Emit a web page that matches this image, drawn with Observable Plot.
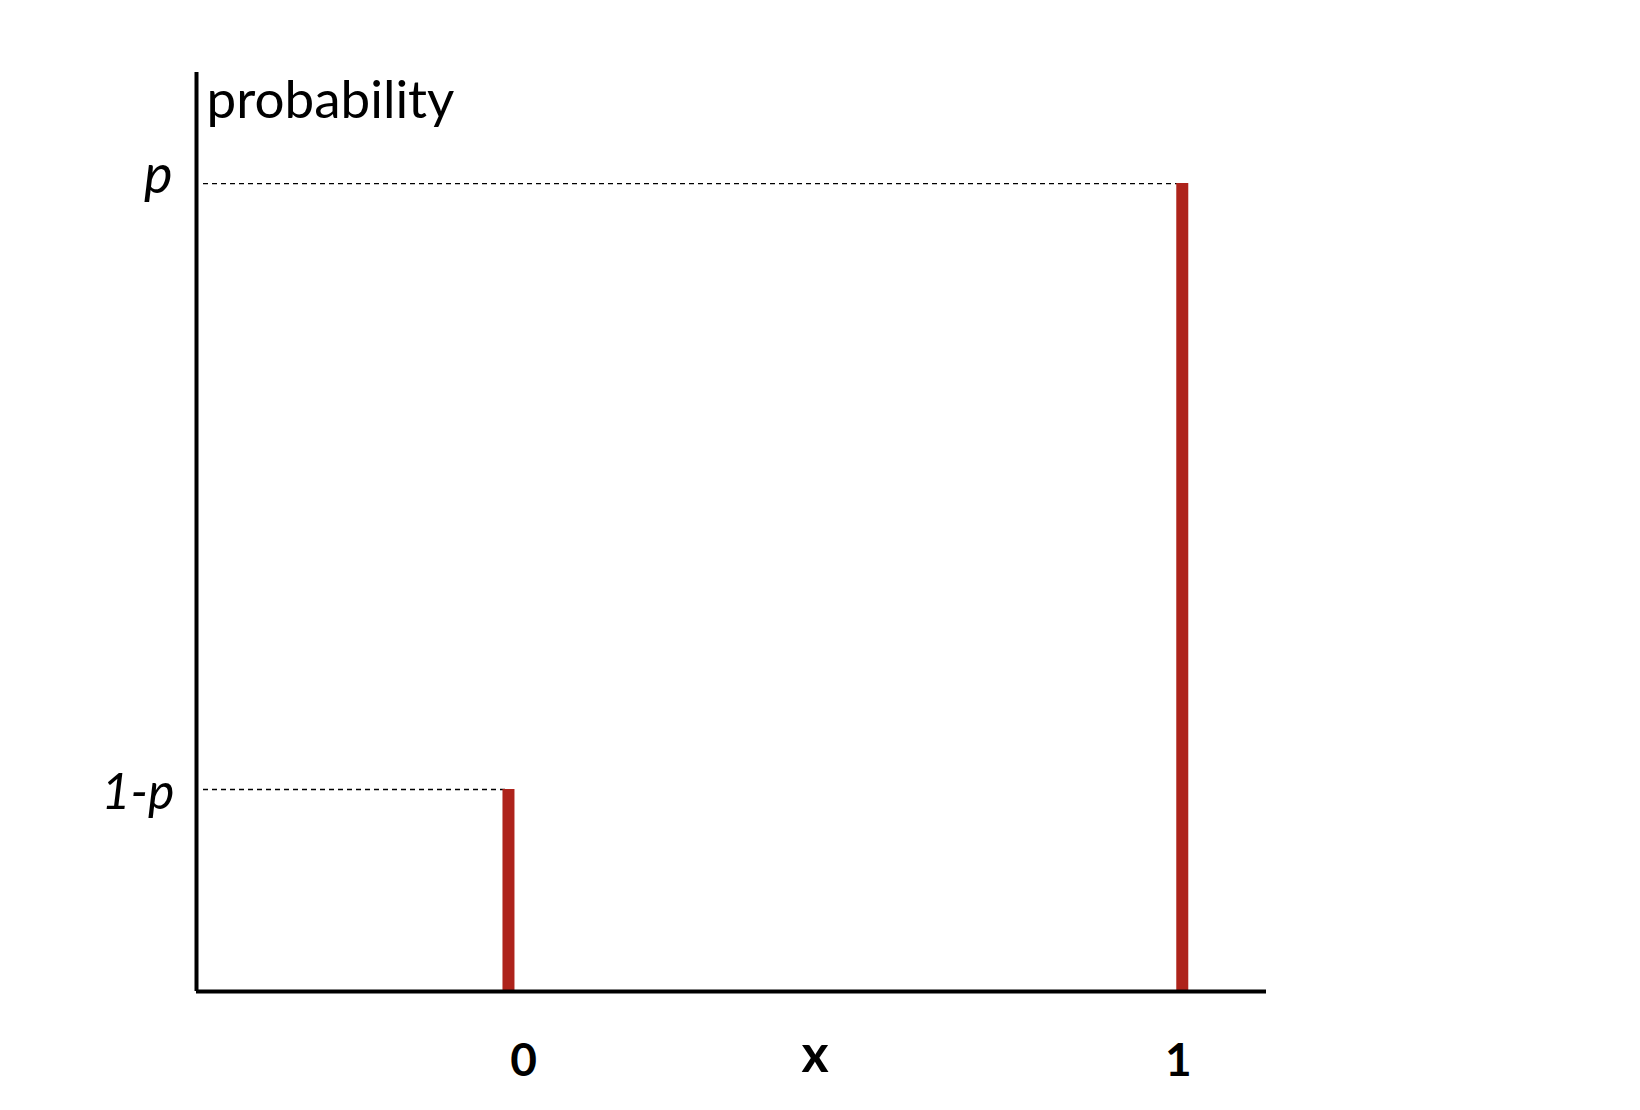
<!DOCTYPE html>
<html>
<head>
<meta charset="utf-8">
<script src="https://cdn.jsdelivr.net/npm/d3@7"></script>
<script src="https://cdn.jsdelivr.net/npm/@observablehq/plot@0.6"></script>
<style>
  html, body { margin: 0; padding: 0; background: #fff; }
  #chart svg { display: block; }
</style>
</head>
<body>
<div id="chart"></div>
<script>
// Data: Bernoulli distribution with p = 0.8
const outcomes = [0, 1];
const probabilities = [0.2, 0.8];
const tickLabels = ["1-p", "p"];
const outcomeLabels = ["0", "1"];
const axisTitleY = "probability";
const axisTitleX = "x";
const xLabelAt = 0.455;

const xDomain = [-0.463, 1.125];
const yDomain = [0, 0.91];

const bars = outcomes.map((x, i) => ({x, prob: probabilities[i], label: outcomeLabels[i], tick: tickLabels[i]}));

const font = "Lato, 'Noto Sans', sans-serif";
const red = "#ae231b";

const chart = Plot.plot({
  width: 1640,
  height: 1110,
  marginLeft: 196,
  marginRight: 374,
  marginTop: 72,
  marginBottom: 119,
  x: {domain: xDomain, axis: null},
  y: {domain: yDomain, axis: null},
  style: {fontFamily: font, background: "#fff"},
  marks: [
    // dashed guide lines
    Plot.ruleY(bars, {y: "prob", x1: xDomain[0], x2: "x", stroke: "#000", strokeWidth: 1.3, strokeDasharray: "5,4", insetLeft: 7}),
    // bars (spikes)
    Plot.ruleX(bars, {x: "x", y1: 0, y2: "prob", stroke: red, strokeWidth: 12, insetTop: 2}),
    // axes lines
    Plot.ruleX([xDomain[0]], {y1: 0, y2: yDomain[1], stroke: "#000", strokeWidth: 4}),
    Plot.ruleY([0], {x1: xDomain[0], x2: xDomain[1], stroke: "#000", strokeWidth: 4}),
    // y tick labels
    Plot.text(bars.filter(d => d.x === 0), {x: xDomain[0], y: "prob", text: "tick", textAnchor: "end", lineAnchor: "bottom", dx: -22, dy: 19, fontSize: 50, fontStyle: "italic", fill: "#000"}),
    Plot.text(bars.filter(d => d.x === 1), {x: xDomain[0], y: "prob", text: "tick", textAnchor: "end", lineAnchor: "bottom", dx: -24, dy: 9, fontSize: 54, fontStyle: "italic", fill: "#000"}),
    // y axis title
    Plot.text([axisTitleY], {x: xDomain[0], y: yDomain[1], text: d => d, textAnchor: "start", lineAnchor: "bottom", dx: 10, dy: 45, fontSize: 53, fill: "#000"}),
    // x tick labels
    Plot.text(bars.filter(d => d.x === 0), {x: "x", y: 0, text: "label", textAnchor: "middle", lineAnchor: "bottom", dx: 15, dy: 84, fontSize: 46, fontWeight: "bold", fill: "#000"}),
    Plot.text(bars.filter(d => d.x === 1), {x: "x", y: 0, text: "label", textAnchor: "middle", lineAnchor: "bottom", dx: -4, dy: 84, fontSize: 46, fontWeight: "bold", fill: "#000"}),
    Plot.text([axisTitleX], {x: xLabelAt, y: 0, text: d => d, textAnchor: "middle", lineAnchor: "bottom", dy: 80, fontSize: 52, fontWeight: "bold", fill: "#000"})
  ]
});
document.getElementById("chart").appendChild(chart);
</script>
</body>
</html>
